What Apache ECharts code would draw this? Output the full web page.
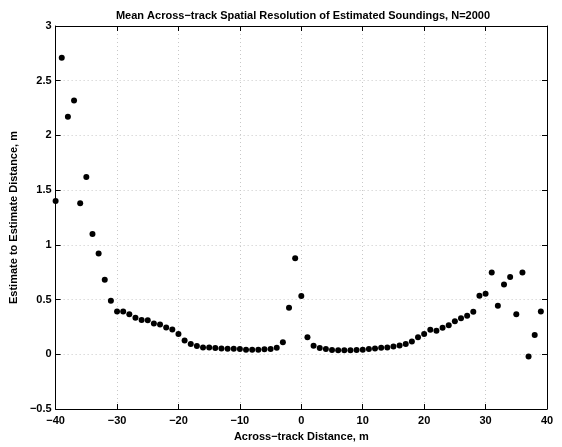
<!DOCTYPE html>
<html>
<head>
<meta charset="utf-8">
<script src="https://cdn.jsdelivr.net/npm/echarts@6/dist/echarts.min.js"></script>
<style>
  html, body { margin: 0; padding: 0; background: #fff; }
  #chart { width: 562px; height: 447px; }
</style>
</head>
<body>
<div id="chart"></div>
<script>
// across-track distance, m
var distances = [
  -40, -39, -38, -37, -36, -35, -34, -33, -32, -31,
  -30, -29, -28, -27, -26, -25, -24, -23, -22, -21,
  -20, -19, -18, -17, -16, -15, -14, -13, -12, -11,
  -10, -9, -8, -7, -6, -5, -4, -3, -2, -1,
  0, 1, 2, 3, 4, 5, 6, 7, 8, 9,
  10, 11, 12, 13, 14, 15, 16, 17, 18, 19,
  20, 21, 22, 23, 24, 25, 26, 27, 28, 29,
  30, 31, 32, 33, 34, 35, 36, 37, 38, 39
];
// mean estimate-to-estimate distance, m
var spacing = [
  1.40, 2.71, 2.17, 2.32, 1.38, 1.62, 1.10, 0.92, 0.68, 0.49,
  0.39, 0.39, 0.365, 0.335, 0.314, 0.311, 0.281, 0.272, 0.245, 0.227,
  0.186, 0.126, 0.093, 0.075, 0.063, 0.063, 0.057, 0.054, 0.051, 0.051,
  0.048, 0.042, 0.042, 0.042, 0.045, 0.048, 0.06, 0.11, 0.425, 0.877,
  0.533, 0.156, 0.078, 0.057, 0.048, 0.039, 0.036, 0.036, 0.036, 0.039,
  0.042, 0.048, 0.054, 0.06, 0.063, 0.072, 0.081, 0.093, 0.117, 0.156,
  0.186, 0.225, 0.215, 0.242, 0.266, 0.302, 0.329, 0.353, 0.389, 0.536,
  0.554, 0.748, 0.443, 0.637, 0.706, 0.365, 0.748, -0.021, 0.177, 0.392
];

var chart = echarts.init(document.getElementById('chart'));

var fontFam = '"Liberation Sans", Arial, sans-serif';
var minusFmt = function (v) {
  return String(v).replace('-', '\u2212');
};

var points = distances.map(function (d, i) { return [d, spacing[i]]; });

var gridLine = { show: true, lineStyle: { color: '#c8c8c8', type: [1, 3], width: 1 } };
var tickIn = { show: true, inside: true, length: 5, lineStyle: { color: '#000' } };

var option = {
  backgroundColor: '#fff',
  animation: false,
  title: {
    text: 'Mean Across\u2212track Spatial Resolution of Estimated Soundings, N=2000',
    left: 298, top: 5, textAlign: 'center',
    textStyle: { fontFamily: fontFam, fontSize: 11, fontWeight: 'bold', color: '#000' }
  },
  grid: { left: 55, right: 15, top: 26, bottom: 33 },
  xAxis: [{
    type: 'value', min: -40, max: 40, interval: 10,
    name: 'Across\u2212track Distance, m', nameLocation: 'middle', nameGap: 22,
    nameTextStyle: { fontFamily: fontFam, fontSize: 11, fontWeight: 'bold', color: '#000' },
    axisLine: { show: true, onZero: false, lineStyle: { color: '#000' } },
    axisTick: tickIn,
    axisLabel: { formatter: minusFmt, margin: 6, fontFamily: fontFam, fontSize: 11, fontWeight: 'bold', color: '#000' },
    splitLine: gridLine
  }, {
    type: 'value', position: 'top', min: -40, max: 40, interval: 10,
    axisLine: { show: true, onZero: false, lineStyle: { color: '#000' } },
    axisTick: tickIn, axisLabel: { show: false }, splitLine: { show: false }
  }],
  yAxis: [{
    type: 'value', min: -0.5, max: 3, interval: 0.5,
    name: 'Estimate to Estimate Distance, m', nameLocation: 'middle', nameGap: 28,
    nameTextStyle: { fontFamily: fontFam, fontSize: 11, fontWeight: 'bold', color: '#000' },
    axisLine: { show: true, onZero: false, lineStyle: { color: '#000' } },
    axisTick: tickIn,
    axisLabel: { formatter: minusFmt, margin: 4, fontFamily: fontFam, fontSize: 11, fontWeight: 'bold', color: '#000' },
    splitLine: gridLine
  }, {
    type: 'value', position: 'right', min: -0.5, max: 3, interval: 0.5,
    axisLine: { show: true, onZero: false, lineStyle: { color: '#000' } },
    axisTick: tickIn, axisLabel: { show: false }, splitLine: { show: false }
  }],
  series: [{
    type: 'scatter',
    data: points,
    symbol: 'circle',
    symbolSize: 6,
    itemStyle: { color: '#000', opacity: 1 }
  }]
};

chart.setOption(option);
</script>
</body>
</html>
